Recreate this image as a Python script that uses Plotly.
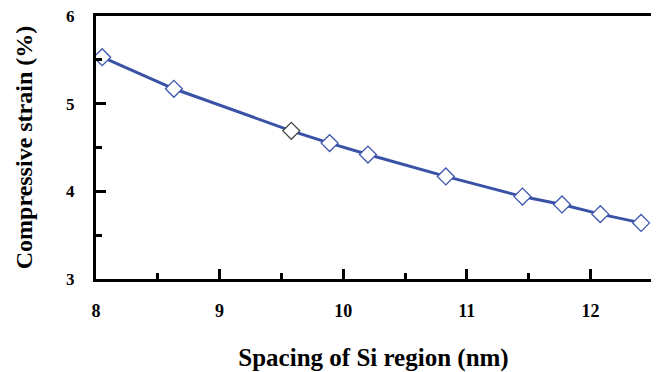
import plotly.graph_objects as go

spacing_nm = [8.05, 8.63, 9.58, 9.89, 10.20, 10.83, 11.45, 11.77, 12.08, 12.41]
strain_pct = [5.53, 5.17, 4.69, 4.55, 4.42, 4.17, 3.94, 3.85, 3.74, 3.64]
x_ticks = [8, 9, 10, 11, 12]
y_ticks = [3, 4, 5, 6]

marker_lines = ["#3F55B0"] * len(spacing_nm)
marker_lines[2] = "#444444"

FAM = "Liberation Serif"

fig = go.Figure()
fig.add_trace(go.Scatter(
    x=spacing_nm, y=strain_pct, mode="lines+markers",
    line=dict(color="#3A52A6", width=3),
    marker=dict(symbol="diamond", size=13, color="white",
                line=dict(color=marker_lines, width=1.3)),
    showlegend=False,
))

# page body has an 8px margin, so the figure is sized/offset to compensate
fig.update_layout(
    width=651, height=364,
    margin=dict(l=88, r=8, t=8, b=93),
    plot_bgcolor="white", paper_bgcolor="white",
    font=dict(family=FAM, color="black"),
)
fig.update_xaxes(
    range=[8, 12.49], tickvals=x_ticks, ticktext=["<b>%d</b>" % v for v in x_ticks],
    ticks="inside", ticklen=10, tickwidth=2.5, tickcolor="black",
    minor=dict(dtick=0.5, tick0=8, ticks="inside", ticklen=6, tickwidth=2.5, tickcolor="black"),
    showline=True, linewidth=3, linecolor="black", mirror=True,
    showgrid=False, zeroline=False, automargin=False,
    tickfont=dict(family=FAM, size=18, color="black"),
    ticklabelstandoff=13, ticklabeloverflow="allow",
    title=dict(text="<b>Spacing of Si region (nm)</b>", standoff=42,
               font=dict(family=FAM, size=25, color="black")),
)
fig.update_yaxes(
    range=[3, 6], tickvals=y_ticks, ticktext=["<b>%d</b>" % v for v in y_ticks],
    ticks="inside", ticklen=10, tickwidth=2.5, tickcolor="black",
    minor=dict(dtick=0.5, tick0=3, ticks="inside", ticklen=6, tickwidth=2.5, tickcolor="black"),
    showline=True, linewidth=3, linecolor="black", mirror=True,
    showgrid=False, zeroline=False, automargin=False,
    tickfont=dict(family=FAM, size=17, color="black"),
    ticklabelstandoff=15, ticklabeloverflow="allow",
    title=dict(text="<b>Compressive strain (%)</b>", standoff=27,
               font=dict(family=FAM, size=24, color="black")),
)
fig.write_html("out.html")
